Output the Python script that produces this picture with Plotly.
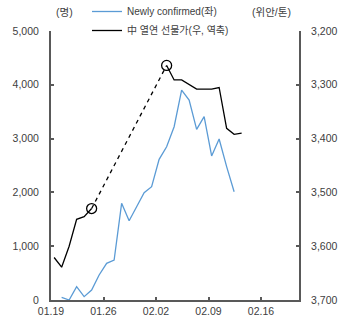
import pandas as pd
import plotly.graph_objects as go

# Daily newly confirmed cases (left axis, persons)
case_dates = pd.date_range("2020-01-20", "2020-02-12", freq="D")
case_values = [50, 0, 247, 62, 186, 465, 682, 743, 1797, 1474, 1734, 1995, 2106,
               2615, 2849, 3221, 3903, 3717, 3172, 3407, 2677, 2993, 2480, 2013]

# China hot-rolled coil futures price (right axis, reversed, yuan/ton)
pre_dates = ["2020-01-19", "2020-01-20", "2020-01-21", "2020-01-22", "2020-01-23", "2020-01-24"]
pre_values = [3621, 3639, 3600, 3550, 3545, 3530]
post_dates = ["2020-02-03", "2020-02-04", "2020-02-05", "2020-02-07", "2020-02-09",
              "2020-02-10", "2020-02-11", "2020-02-12", "2020-02-13"]
post_values = [3264, 3291, 3291, 3308, 3308, 3305, 3381, 3392, 3390]

# Axis labels
tick_dates = ["2020-01-19", "2020-01-26", "2020-02-02", "2020-02-09", "2020-02-16"]
tick_text = ["01.19", "01.26", "02.02", "02.09", "02.16"]
left_ticks = [0, 1000, 2000, 3000, 4000, 5000]
right_ticks = [3200, 3300, 3400, 3500, 3600, 3700]

FONT = "Liberation Sans, Noto Sans CJK KR, sans-serif"
GREY = "#404040"
AXIS = "#595959"

# Plot area in pixels
L, R, T, B = 51, 299, 31, 300
W, H = R - L, B - T

fig = go.Figure()

fig.add_trace(go.Scatter(
    x=case_dates, y=case_values, mode="lines", name="Newly confirmed(좌)",
    line=dict(color="#5B9BD5", width=1.3), yaxis="y",
))

# Solid price segments before and after the holiday break
fig.add_trace(go.Scatter(
    x=pre_dates + [None] + post_dates, y=pre_values + [None] + post_values,
    mode="lines", name="中 열연 선물가(우, 역축)",
    line=dict(color="#000000", width=1.3), yaxis="y2", connectgaps=False,
))

# Dashed bridge across the holiday with open circles at both ends
fig.add_trace(go.Scatter(
    x=[pre_dates[-1], post_dates[0]], y=[pre_values[-1], post_values[0]],
    mode="lines+markers", showlegend=False, yaxis="y2",
    line=dict(color="#000000", width=1.3, dash="4px,4px"),
    marker=dict(symbol="circle-open", size=10, color="#000000", line=dict(width=1.3)),
))

shift = pd.Timedelta(hours=10)
tickvals = [pd.Timestamp(d) - shift for d in tick_dates]
x_start = pd.Timestamp("2020-01-19") - shift
x_end = x_start + pd.Timedelta(days=W / 7.5)

axis_common = dict(
    showgrid=False, zeroline=False, showline=True, linecolor=AXIS, linewidth=2,
    ticks="inside", ticklen=3, tickwidth=1.5, tickcolor=AXIS,
    tickfont=dict(size=10.5, color=GREY), automargin=False,
)

fig.update_layout(
    width=339, height=320,
    margin=dict(l=L, r=339 - R, t=T, b=320 - B, autoexpand=False),
    paper_bgcolor="white", plot_bgcolor="white",
    font=dict(family=FONT, size=10.5, color=GREY),
    xaxis=dict(range=[x_start, x_end], tickvals=tickvals, ticktext=tick_text, **axis_common),
    yaxis=dict(range=[0, 5000], tickvals=left_ticks, tickformat=",",
               ticklabelstandoff=8, **axis_common),
    yaxis2=dict(range=[3700, 3200], tickvals=right_ticks, tickformat=",",
                overlaying="y", side="right", ticklabelstandoff=8, **axis_common),
    legend=dict(
        x=(87 - L) / W, y=1 + (T + 3) / H, xanchor="left", yanchor="top",
        bgcolor="rgba(0,0,0,0)", font=dict(size=10, color=GREY),
        tracegroupgap=0,
    ),
    annotations=[
        dict(text="(명)", x=(64 - L) / W, y=1 + (T - 12) / H, xref="paper", yref="paper",
             xanchor="center", yanchor="middle", showarrow=False,
             font=dict(size=10.5, color=GREY)),
        dict(text="(위안/톤)", x=(271 - L) / W, y=1 + (T - 12) / H, xref="paper", yref="paper",
             xanchor="center", yanchor="middle", showarrow=False,
             font=dict(size=10.5, color=GREY)),
    ],
)

fig.write_html("out.html")
